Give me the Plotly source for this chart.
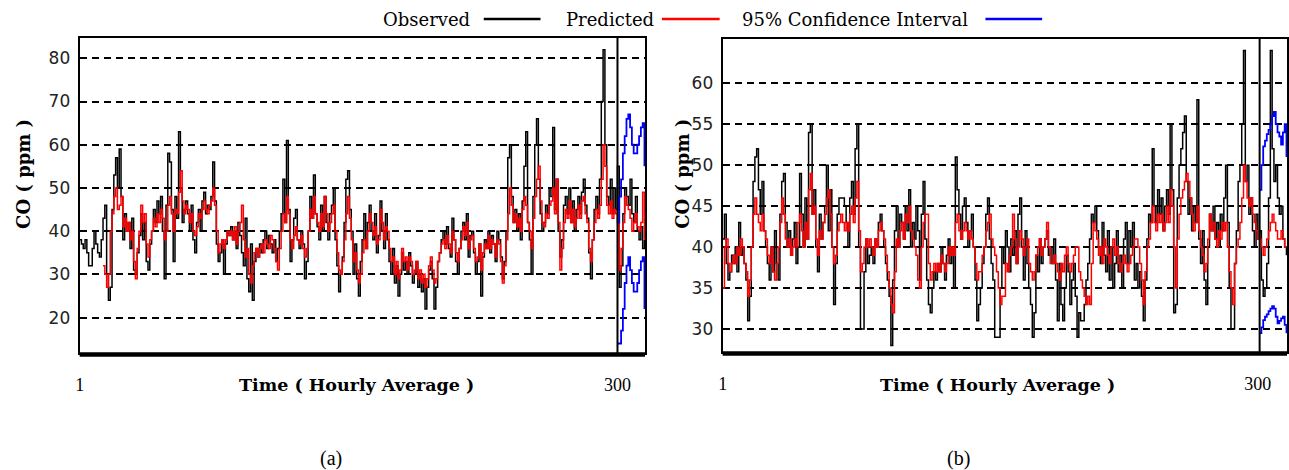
import plotly.graph_objects as go

W, H = 1289, 470

# ---------------- Panel (a) data ----------------
t_a = list(range(1, 316))
obs_a = [
    38, 37, 36, 38, 35, 32, 32, 36, 40, 37, 35, 34, 38, 43, 46, 30, 24, 27, 45, 53,
    57, 50, 59, 48, 38, 44, 40, 42, 36, 43, 31, 30, 35, 39, 44, 38, 42, 33, 31, 37,
    40, 45, 42, 47, 44, 48, 40, 29, 46, 58, 56, 45, 33, 48, 43, 63, 50, 42, 45, 47,
    44, 40, 46, 38, 35, 42, 45, 40, 47, 49, 44, 46, 45, 48, 56, 47, 37, 33, 35, 38,
    30, 37, 40, 39, 41, 38, 40, 36, 42, 39, 35, 32, 43, 29, 26, 37, 24, 33, 36, 34,
    37, 35, 38, 40, 36, 39, 37, 35, 38, 33, 36, 40, 44, 52, 42, 61, 45, 33, 38, 43,
    45, 38, 36, 40, 37, 29, 33, 40, 48, 43, 53, 44, 41, 38, 46, 40, 48, 42, 38, 44,
    46, 50, 38, 32, 26, 30, 34, 42, 52, 54, 45, 40, 30, 37, 29, 25, 33, 38, 44, 36,
    42, 46, 40, 38, 44, 35, 39, 47, 40, 36, 44, 38, 33, 30, 36, 28, 32, 25, 30, 35,
    31, 33, 30, 35, 32, 28, 30, 33, 27, 30, 26, 29, 22, 27, 31, 33, 29, 22, 27, 33,
    35, 38, 40, 37, 41, 36, 34, 43, 38, 33, 30, 36, 40, 42, 38, 44, 34, 39, 40, 35,
    30, 33, 37, 25, 34, 38, 36, 40, 35, 39, 37, 33, 40, 38, 34, 29, 33, 40, 57, 60,
    48, 42, 45, 40, 44, 38, 47, 55, 63, 42, 38, 30, 48, 60, 66, 52, 44, 40, 42, 46,
    44, 50, 48, 64, 45, 52, 40, 34, 38, 46, 48, 44, 50, 42, 47, 40, 45, 48, 44, 49,
    52, 46, 43, 35, 29, 38, 45, 48, 44, 52, 70, 82, 60, 48, 46, 52, 44, 50, 45, 55,
    27, 32, 44, 50, 48, 46, 52, 44, 42, 48, 40, 38, 41, 36, 38,
]
pred_a = [
    None, None, None, None, None, None, None, None, None, None, None, None, None,
    32, 30, 27, 30, 40, 44, 48,
    50, 45, 46, 48, 41, 43, 40, 42, 38, 40, 33, 29, 36, 40, 46, 42, 44, 37, 34, 38,
    40, 43, 41, 44, 42, 45, 43, 38, 40, 46, 48, 44, 40, 45, 44, 49, 54, 47, 44, 46,
    45, 42, 44, 40, 39, 41, 44, 43, 45, 47, 45, 44, 46, 47, 50, 46, 40, 35, 37, 38,
    36, 38, 40, 39, 40, 38, 41, 37, 40, 42, 46, 38, 34, 36, 30, 28, 32, 35, 36, 34,
    36, 37, 35, 38, 37, 36, 39, 38, 36, 33, 31, 36, 40, 44, 42, 48, 44, 38, 36, 39,
    41, 38, 37, 39, 36, 34, 36, 40, 45, 43, 48, 44, 42, 40, 44, 41, 48, 44, 40, 42,
    44, 46, 40, 35, 31, 30, 33, 38, 44, 48, 43, 38, 33, 35, 31, 28, 30, 35, 38, 36,
    40, 44, 42, 39, 41, 37, 38, 45, 42, 38, 41, 40, 36, 33, 34, 30, 33, 29, 31, 36,
    33, 34, 31, 34, 33, 30, 31, 33, 29, 31, 28, 30, 27, 29, 32, 34, 31, 28, 29, 33,
    35, 37, 38, 36, 39, 37, 35, 40, 38, 35, 33, 36, 38, 41, 39, 42, 36, 38, 39, 36,
    33, 34, 37, 31, 35, 37, 36, 39, 36, 38, 37, 34, 38, 37, 33, 28, 32, 38, 44, 50,
    46, 42, 44, 41, 43, 40, 45, 48, 46, 42, 40, 36, 43, 48, 52, 55, 47, 42, 41, 44,
    43, 46, 47, 50, 44, 52, 42, 31, 36, 42, 45, 43, 47, 42, 45, 41, 43, 46, 43, 47,
    48, 44, 42, 36, 33, 38, 42, 45, 43, 46, 52, 60, 55, 46, 44, 47, 43, 45, 44, 42,
    31, 36, 42, 48, 46, 45, 43, 40, 42, 44, 41, 40, 42, 49, 38,
]
ci_t_a = list(range(300, 316))
ci_up_a = [42, 48, 52, 58, 62, 66, 67, 64, 60, 58, 58, 60, 62, 64, 65, 55]
ci_lo_a = [14, 14, 17, 22, 28, 32, 34, 31, 28, 26, 26, 28, 31, 33, 34, 22]

# ---------------- Panel (b) data ----------------
t_b = list(range(1, 317))
obs_b = [
    41, 44, 38, 36, 37, 39, 38, 40, 37, 43, 39, 40, 38, 36, 31, 34, 40, 48, 51, 52,
    47, 44, 48, 42, 40, 38, 36, 40, 37, 42, 38, 36, 44, 48, 49, 43, 40, 42, 39, 41,
    43, 38, 40, 49, 44, 40, 46, 41, 54, 55, 44, 47, 40, 37, 44, 41, 43, 45, 50, 42,
    47, 40, 33, 38, 44, 46, 46, 46, 45, 43, 40, 46, 48, 44, 52, 55, 40, 30, 30, 37,
    41, 38, 39, 40, 38, 41, 40, 43, 44, 42, 40, 38, 36, 34, 28, 36, 42, 45, 40, 44,
    43, 41, 45, 42, 47, 40, 43, 41, 45, 42, 36, 44, 48, 41, 36, 33, 32, 35, 37, 36,
    38, 37, 40, 38, 36, 39, 41, 38, 40, 35, 51, 47, 44, 41, 45, 46, 43, 40, 42, 44,
    40, 36, 31, 33, 35, 38, 40, 44, 46, 41, 38, 36, 29, 29, 29, 35, 40, 38, 42, 40,
    37, 41, 39, 42, 38, 44, 46, 40, 36, 42, 38, 35, 33, 29, 32, 39, 37, 41, 38, 40,
    41, 42, 39, 40, 38, 41, 36, 31, 38, 33, 31, 35, 39, 37, 33, 36, 38, 34, 29, 32,
    31, 31, 33, 36, 38, 41, 44, 43, 45, 42, 40, 38, 43, 39, 37, 42, 36, 40, 35, 38,
    42, 37, 39, 35, 41, 43, 38, 42, 40, 43, 36, 38, 35, 37, 34, 31, 36, 41, 44, 43,
    52, 45, 43, 47, 44, 46, 42, 45, 47, 44, 55, 47, 32, 33, 46, 50, 52, 54, 56, 48,
    44, 46, 42, 45, 43, 58, 41, 38, 42, 36, 33, 40, 44, 42, 45, 41, 43, 40, 44, 42,
    46, 50, 43, 35, 30, 30, 38, 42, 48, 50, 55, 64, 48, 50, 44, 46, 42, 40, 44, 41,
    42, 36, 34, 35, 38, 46, 64, 52, 48, 50, 46, 44, 45, 41, 40, 39,
]
pred_b = [
    35, 40, 41, 38, 37, 38, 39, 38, 40, 39, 41, 40, 38, 37, 34, 36, 40, 44, 46, 44,
    43, 42, 44, 42, 41, 39, 38, 40, 37, 36, 38, 40, 43, 46, 44, 41, 40, 41, 39, 40,
    41, 40, 43, 44, 42, 40, 43, 41, 47, 49, 44, 45, 41, 39, 42, 41, 43, 44, 46, 47,
    44, 40, 38, 39, 42, 43, 44, 43, 42, 43, 42, 44, 45, 43, 46, 48, 42, 37, 38, 40,
    41, 40, 41, 40, 39, 41, 40, 42, 43, 42, 41, 39, 37, 35, 33, 32, 37, 41, 40, 42,
    43, 41, 44, 43, 45, 42, 41, 40, 39, 36, 35, 40, 43, 44, 44, 38, 36, 37, 38, 37,
    38, 37, 39, 38, 37, 38, 40, 39, 40, 39, 43, 44, 42, 41, 42, 43, 42, 41, 42, 41,
    40, 38, 36, 37, 37, 39, 40, 42, 43, 44, 41, 40, 39, 37, 35, 33, 34, 34, 38, 37,
    39, 40, 44, 41, 38, 40, 42, 41, 39, 40, 41, 38, 37, 36, 37, 39, 40, 41, 39, 40,
    41, 43, 40, 38, 38, 39, 38, 37, 36, 38, 37, 39, 40, 38, 37, 38, 39, 40, 40, 37,
    36, 35, 34, 33, 34, 33, 38, 43, 42, 41, 39, 40, 38, 41, 40, 39, 38, 40, 41, 39,
    40, 38, 37, 38, 39, 38, 37, 38, 39, 40, 41, 41, 40, 38, 36, 33, 37, 40, 41, 43,
    45, 43, 42, 44, 43, 44, 42, 43, 45, 43, 47, 45, 40, 35, 41, 44, 46, 47, 48, 49,
    48, 46, 44, 42, 43, 45, 42, 40, 39, 37, 38, 41, 44, 42, 43, 41, 40, 42, 41, 43,
    42, 43, 40, 37, 35, 33, 38, 40, 41, 43, 46, 50, 48, 46, 45, 46, 44, 43, 42, 41,
    41, 40, 39, 40, 41, 42, 43, 44, 43, 42, 41, 41, 42, 41, 40, 40,
]
ci_t_b = list(range(301, 317))
ci_up_b = [47, 50, 52.3, 53, 53.8, 54.3, 55, 56, 56.5, 55, 54, 53.5, 52.5, 54, 55, 51]
ci_lo_b = [29.5, 30.2, 31.1, 31.5, 31.8, 32.2, 32.5, 32.8, 32.5, 31.5, 30.7, 31, 31.3, 31.5, 30.5, 29.5]

yticks_a = [20, 30, 40, 50, 60, 70, 80]
yticks_b = [30, 35, 40, 45, 50, 55, 60]
xticks = [1, 300]
legend_names = ["Observed", "Predicted", "95% Confidence Interval"]
colors = ["#000000", "#ff0000", "#0000ff"]

assert len(obs_a) == len(t_a) == len(pred_a), (len(obs_a), len(pred_a))
assert len(obs_b) == len(t_b) == len(pred_b), (len(obs_b), len(pred_b))


def px(x):
    return x / W


def py(y):
    return 1 - y / H


fig = go.Figure()


def add_panel(xa, ya, t, obs, pred, cit, up, lo):
    fig.add_trace(go.Scatter(x=t, y=obs, mode="lines", line=dict(color=colors[0], width=1.5, shape="hv"),
                             xaxis=xa, yaxis=ya, showlegend=False, connectgaps=False))
    fig.add_trace(go.Scatter(x=t, y=pred, mode="lines", line=dict(color=colors[1], width=1.5, shape="hv"),
                             xaxis=xa, yaxis=ya, showlegend=False, connectgaps=False))
    fig.add_trace(go.Scatter(x=cit, y=up, mode="lines", line=dict(color=colors[2], width=1.8, shape="hv"),
                             xaxis=xa, yaxis=ya, showlegend=False))
    fig.add_trace(go.Scatter(x=cit, y=lo, mode="lines", line=dict(color=colors[2], width=1.8, shape="hv"),
                             xaxis=xa, yaxis=ya, showlegend=False))


add_panel("x", "y", t_a, obs_a, pred_a, ci_t_a, ci_up_a, ci_lo_a)
add_panel("x2", "y2", t_b, obs_b, pred_b, ci_t_b, ci_up_b, ci_lo_b)

xcommon = dict(tickvals=xticks, ticktext=[str(v) for v in xticks], ticks="", showgrid=False, zeroline=False,
               showline=True, linecolor="black", linewidth=2, mirror=True,
               tickfont=dict(family="Liberation Serif", size=18, color="black"), ticklabelstandoff=14)
ycommon = dict(ticks="", showgrid=True, gridcolor="black", gridwidth=1.6, griddash="7px,5px", zeroline=False,
               showline=True, linecolor="black", linewidth=2, mirror=True,
               tickfont=dict(family="DejaVu Sans", size=17, color="#222"), ticklabelstandoff=4)

fig.update_layout(
    width=W, height=H, margin=dict(l=0, r=0, t=0, b=0),
    paper_bgcolor="white", plot_bgcolor="white", showlegend=False,
    xaxis=dict(domain=[px(75), px(643)], range=[1, 315.3], anchor="y", **xcommon),
    yaxis=dict(domain=[py(353), py(38)], range=[11.8, 84.7], tickvals=yticks_a, anchor="x", **ycommon),
    xaxis2=dict(domain=[px(721), px(1288)], range=[1, 316.3], anchor="y2", **xcommon),
    yaxis2=dict(domain=[py(352), py(39)], range=[27.2, 65.4], tickvals=yticks_b, anchor="x2", **ycommon),
)

shapes = []
# forecast-origin vertical lines and thick bottom bands
for xr, yr, xv in [("x", "y", 300), ("x2", "y2", 301)]:
    shapes.append(dict(type="line", xref=xr, yref=yr + " domain", x0=xv, x1=xv, y0=0, y1=1,
                       line=dict(color="black", width=2)))
    shapes.append(dict(type="rect", xref=xr + " domain", yref=yr + " domain", x0=0, x1=1, y0=-0.012, y1=0.002,
                       fillcolor="black", line=dict(width=0)))
# legend samples
legend_lines = [(481, 538), (660, 718), (985, 1042)]
for (x0, x1), c in zip(legend_lines, colors):
    shapes.append(dict(type="line", xref="paper", yref="paper", x0=px(x0), x1=px(x1), y0=py(19), y1=py(19),
                       line=dict(color=c, width=2.5)))
fig.update_layout(shapes=shapes)

annotations = []
legend_text_right = [469, 654, 970]
for name, xr in zip(legend_names, legend_text_right):
    annotations.append(dict(text=name, x=px(xr), y=py(19), xref="paper", yref="paper", xanchor="right",
                            yanchor="middle", showarrow=False,
                            font=dict(family="DejaVu Serif", size=18, color="black")))
for xc, yc in [(18, 174), (680, 174)]:
    annotations.append(dict(text="<b>CO ( ppm )</b>", x=px(xc), y=py(yc), xref="paper", yref="paper",
                            textangle=-90, showarrow=False, xanchor="center", yanchor="middle",
                            font=dict(family="DejaVu Serif", size=18, color="black")))
for xc in [353, 997]:
    annotations.append(dict(text="<b>Time ( Hourly Average )</b>", x=px(xc), y=py(385), xref="paper",
                            yref="paper", showarrow=False, xanchor="center", yanchor="middle",
                            font=dict(family="DejaVu Serif", size=17.5, color="black")))
for txt, xc in [("(a)", 328), ("(b)", 958)]:
    annotations.append(dict(text=txt, x=px(xc), y=py(458), xref="paper", yref="paper", showarrow=False,
                            xanchor="center", yanchor="middle",
                            font=dict(family="Liberation Serif", size=20, color="black")))
fig.update_layout(annotations=annotations)

fig.write_html("out.html")
